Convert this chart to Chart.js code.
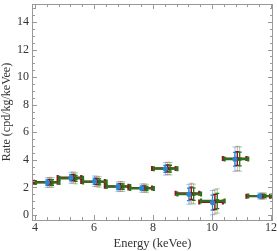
<!DOCTYPE html>
<html>
<head>
<meta charset="utf-8">
<script src="https://cdn.jsdelivr.net/npm/chart.js@4"></script>
<style>
  html, body { margin: 0; padding: 0; background: #fff; }
  #wrap { width: 277px; height: 251px; }
</style>
</head>
<body>
<div id="wrap"><canvas id="chart"></canvas></div>
<script>
// energy bins (keVee)
const binLo = [4.0, 4.8, 5.6, 6.4, 7.2, 8.0, 8.8, 9.6, 10.4, 11.2];
const binHi = [4.8, 5.6, 6.4, 7.2, 8.0, 8.8, 9.6, 10.4, 11.2, 12.0];
// point positions inside each bin, per series
const blueX = [4.42, 5.22, 6.02, 6.82, 7.62, 8.42, 9.22, 10.02, 10.78, 11.62];
const redX = [4.5, 5.3, 6.1, 6.9, 7.7, 8.5, 9.3, 10.1, 10.86, 11.7];
const greenX = [4.58, 5.38, 6.18, 6.98, 7.78, 8.58, 9.38, 10.18, 10.94, 11.78];
// rates (cpd/kg/keVee)
const blueY = [2.35, 2.7, 2.45, 2.05, 1.95, 3.35, 1.5, 0.9, 4.05, 1.38];
const redY = [2.38, 2.72, 2.43, 2.08, 1.96, 3.38, 1.58, 0.95, 4.1, 1.37];
const greenY = [2.36, 2.66, 2.4, 2.06, 1.93, 3.36, 1.52, 1.02, 4.06, 1.38];
const statErr = [0.2, 0.22, 0.22, 0.2, 0.15, 0.25, 0.45, 0.55, 0.5, 0.12];
const totErr = [0.35, 0.4, 0.38, 0.35, 0.3, 0.45, 0.72, 0.88, 0.88, 0.22];
const xTicks = [4, 6, 8, 10, 12];
const yTicks = [0, 2, 4, 6, 8, 10, 12, 14];

const series = [
  { label: "blue", xs: blueX, ys: blueY, dark: "#2a86d0", light: "rgba(70,150,215,0.55)", shape: "circle" },
  { label: "red", xs: redX, ys: redY, dark: "#8a0f0f", light: "rgba(200,80,80,0.5)", shape: "triangle" },
  { label: "green", xs: greenX, ys: greenY, dark: "#2e6e1f", light: "rgba(70,160,70,0.5)", shape: "rect" },
];

const frameColor = "#999";

const errorBars = {
  id: "errorBars",
  beforeDatasetsDraw(chart) {
    const ctx = chart.ctx;
    const xs = chart.scales.x;
    const ys = chart.scales.y;
    const vbar = (x, y0, y1, color, w, cap) => {
      const px = xs.getPixelForValue(x);
      const p0 = ys.getPixelForValue(y0);
      const p1 = ys.getPixelForValue(y1);
      ctx.strokeStyle = color;
      ctx.lineWidth = w;
      ctx.beginPath();
      ctx.moveTo(px, p0); ctx.lineTo(px, p1);
      ctx.moveTo(px - cap, p0); ctx.lineTo(px + cap, p0);
      ctx.moveTo(px - cap, p1); ctx.lineTo(px + cap, p1);
      ctx.stroke();
    };
    const hbar = (x0, x1, y, color, w) => {
      const p0 = xs.getPixelForValue(x0);
      const p1 = xs.getPixelForValue(x1);
      const py = ys.getPixelForValue(y);
      ctx.strokeStyle = color;
      ctx.lineWidth = w;
      ctx.beginPath();
      ctx.moveTo(p0, py); ctx.lineTo(p1, py);
      ctx.moveTo(p0, py - 2.5); ctx.lineTo(p0, py + 2.5);
      ctx.moveTo(p1, py - 2.5); ctx.lineTo(p1, py + 2.5);
      ctx.stroke();
    };
    ctx.save();
    // outer (total) errors
    series.forEach((s) => {
      s.xs.forEach((x, i) => vbar(x, s.ys[i] - totErr[i], s.ys[i] + totErr[i], s.light, 1, 2.5));
    });
    // bin widths
    binLo.forEach((lo, i) => {
      hbar(lo - 0.03, binHi[i] - 0.03, redY[i], "#8a1a1a", 2.2);
      hbar(lo + 0.03, binHi[i] + 0.03, greenY[i], "#2e6e1f", 2.2);
    });
    // inner (statistical) errors
    series.forEach((s) => {
      s.xs.forEach((x, i) => vbar(x, s.ys[i] - statErr[i], s.ys[i] + statErr[i], s.dark, 1.3, 2));
    });
    ctx.restore();
  },
};

const frameTicks = {
  id: "frameTicks",
  afterDraw(chart) {
    const ctx = chart.ctx;
    const a = chart.chartArea;
    const xs = chart.scales.x;
    const ys = chart.scales.y;
    ctx.save();
    ctx.strokeStyle = frameColor;
    ctx.lineWidth = 1;
    ctx.beginPath();
    for (let v = 4; v <= 12.001; v += 0.4) {
      const major = Math.abs(v / 2 - Math.round(v / 2)) < 1e-6;
      const len = major ? 5 : 3;
      const px = Math.round(xs.getPixelForValue(v)) + 0.5;
      ctx.moveTo(px, a.bottom); ctx.lineTo(px, a.bottom - len);
      ctx.moveTo(px, a.top); ctx.lineTo(px, a.top + len);
    }
    for (let v = 0; v <= 15.001; v += 0.5) {
      const major = Math.abs(v / 2 - Math.round(v / 2)) < 1e-6;
      const len = major ? 5 : 3;
      const py = Math.round(ys.getPixelForValue(v)) + 0.5;
      ctx.moveTo(a.left, py); ctx.lineTo(a.left + len, py);
      ctx.moveTo(a.right, py); ctx.lineTo(a.right - len, py);
    }
    ctx.stroke();
    ctx.strokeRect(Math.round(a.left) + 0.5, Math.round(a.top) + 0.5, Math.round(a.right - a.left) - 1, Math.round(a.bottom - a.top));
    ctx.restore();
  },
};

const tickFont = { family: "'Liberation Serif', 'DejaVu Serif', serif", size: 12 };

new Chart(document.getElementById("chart"), {
  type: "scatter",
  data: {
    datasets: series.map((s) => ({
      label: s.label,
      data: s.xs.map((x, i) => ({ x, y: s.ys[i] })),
      backgroundColor: s.dark,
      borderColor: s.dark,
      pointStyle: s.shape,
      pointRadius: 2.6,
      borderWidth: 0,
    })),
  },
  options: {
    responsive: true,
    maintainAspectRatio: false,
    animation: false,
    layout: { padding: { top: 0, right: 1, left: 0, bottom: 0 } },
    plugins: { legend: { display: false }, tooltip: { enabled: false } },
    scales: {
      x: {
        type: "linear",
        min: 3.9,
        max: 12.07,
        afterBuildTicks(scale) { scale.ticks = xTicks.map((v) => ({ value: v })); },
        afterFit(scale) { scale.height = 31; scale.paddingLeft = 0; scale.paddingRight = 0; },
        grid: { display: false, drawTicks: false },
        border: { display: false },
        ticks: { font: tickFont, color: "#333", padding: 1, maxRotation: 0 },
        title: { display: true, text: "Energy (keVee)", font: { family: tickFont.family, size: 12.5 }, color: "#333", padding: { top: 1, bottom: 0 } },
      },
      y: {
        type: "linear",
        min: -0.36,
        max: 15.3,
        afterBuildTicks(scale) { scale.ticks = yTicks.map((v) => ({ value: v })); },
        afterFit(scale) { scale.width = 32; scale.paddingTop = 0; scale.paddingBottom = 0; },
        grid: { display: false, drawTicks: false },
        border: { display: false },
        ticks: { font: tickFont, color: "#333", padding: 3 },
        title: { display: true, text: "Rate (cpd/kg/keVee)", font: { family: tickFont.family, size: 12 }, color: "#333", padding: { top: 0, bottom: 0 } },
      },
    },
  },
  plugins: [errorBars, frameTicks],
});
</script>
</body>
</html>
